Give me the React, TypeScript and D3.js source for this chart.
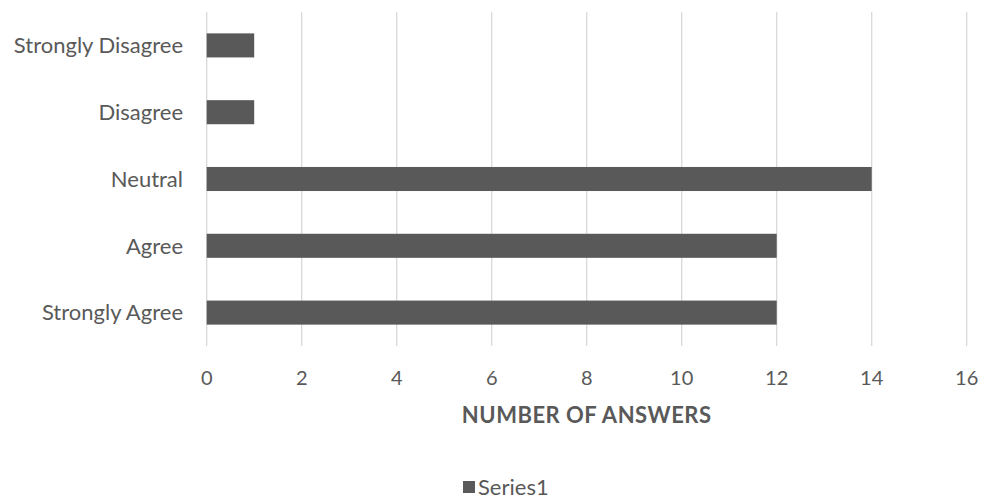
import React, { useEffect, useRef } from "react";
import * as d3 from "d3";

// categories top to bottom, as shown
const categories = ["Strongly Disagree", "Disagree", "Neutral", "Agree", "Strongly Agree"];
const answers = [1, 1, 14, 12, 12];
const xTicks = [0, 2, 4, 6, 8, 10, 12, 14, 16];
const seriesName = "Series1";
const axisTitle = "NUMBER OF ANSWERS";

const App = () => {
  const ref = useRef<SVGSVGElement>(null);

  useEffect(() => {
    const svg = d3.select(ref.current);
    svg.selectAll("*").remove();

    const font = "Lato, 'Open Sans', sans-serif";
    const textColor = "#595959";

    const x = d3.scaleLinear().domain([0, 16]).range([206.7, 966.7]);
    const y = d3.scaleBand<string>().domain(categories).range([12, 346]).paddingInner(0.64).paddingOuter(0.32);

    // gridlines
    svg
      .append("g")
      .selectAll("line")
      .data(xTicks)
      .enter()
      .append("line")
      .attr("x1", (d) => x(d))
      .attr("x2", (d) => x(d))
      .attr("y1", 12)
      .attr("y2", 346)
      .attr("stroke", "#d9d9d9")
      .attr("stroke-width", 1.3);

    // bars
    svg
      .append("g")
      .selectAll("rect")
      .data(answers)
      .enter()
      .append("rect")
      .attr("x", x(0))
      .attr("y", (_, i) => y(categories[i]) as number)
      .attr("width", (d) => x(d) - x(0))
      .attr("height", y.bandwidth())
      .attr("fill", "#595959");

    // category labels
    svg
      .append("g")
      .selectAll("text")
      .data(categories)
      .enter()
      .append("text")
      .attr("x", 183)
      .attr("y", (d) => (y(d) as number) + y.bandwidth() / 2)
      .attr("dy", "0.35em")
      .attr("text-anchor", "end")
      .attr("font-family", font)
      .attr("font-size", 22)
      .attr("fill", textColor)
      .text((d) => d);

    // tick labels
    svg
      .append("g")
      .selectAll("text")
      .data(xTicks)
      .enter()
      .append("text")
      .attr("x", (d) => x(d))
      .attr("y", 378)
      .attr("dy", "0.35em")
      .attr("text-anchor", "middle")
      .attr("font-family", font)
      .attr("font-size", 20)
      .attr("fill", textColor)
      .text((d) => d);

    // axis title
    svg
      .append("text")
      .attr("x", 586.7)
      .attr("y", 415)
      .attr("dy", "0.35em")
      .attr("text-anchor", "middle")
      .attr("font-family", font)
      .attr("font-size", 22)
      .attr("font-weight", "bold")
      .attr("letter-spacing", 0.5)
      .attr("fill", textColor)
      .text(axisTitle);

    // legend
    const legend = svg.append("g").attr("transform", "translate(463, 487)");
    legend.append("rect").attr("x", 0).attr("y", -6).attr("width", 12).attr("height", 12).attr("fill", "#595959");
    legend
      .append("text")
      .attr("x", 15)
      .attr("y", 0)
      .attr("dy", "0.35em")
      .attr("font-family", font)
      .attr("font-size", 22)
      .attr("fill", textColor)
      .text(seriesName);
  }, []);

  return (
    <svg
      ref={ref}
      width={987}
      height={499}
      style={{ position: "absolute", left: 0, top: 0, background: "#fff" }}
    />
  );
};

export default App;
